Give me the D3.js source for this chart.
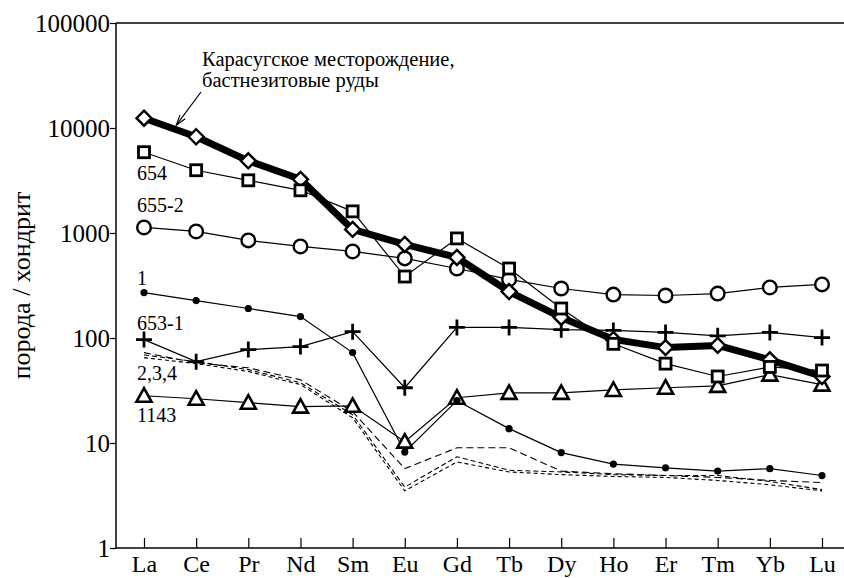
<!DOCTYPE html>
<html><head><meta charset="utf-8">
<script src="https://cdn.jsdelivr.net/npm/d3@7"></script>
<style>
html,body{margin:0;padding:0;background:#fff;}
svg{display:block;}
</style></head>
<body><svg id="c" width="844" height="578"></svg>
<script>
const elements = ["La","Ce","Pr","Nd","Sm","Eu","Gd","Tb","Dy","Ho","Er","Tm","Yb","Lu"];
const yTicks = [1,10,100,1000,10000,100000];

const karasug = [12400,8250,4870,3245,1082,778,585,277,157,97,81,85,62,43];
const s654    = [5880,3960,3175,2550,1607,385,888,459,191,88,57,43,53,49];
const s6552   = [1130,1035,850,745,667,573,459,361,296,259,254,265,303,324];
const s1      = [271,227,191,160,72.6,8.2,25.3,13.7,8.1,6.3,5.8,5.4,5.7,4.9];
const s6531   = [96.6,59.5,77.5,82.8,115,33.6,126,126,120,118,113,105,113,101];
const s1143   = [28.2,26.4,24.2,22.2,22.6,10.3,27,30,30,32,33.6,35,44.8,36];
const s2      = [72.6,58,52,40,19.9,5.7,9.0,9.0,5.4,5.1,4.9,4.7,4.4,4.2];
const s3      = [69,59.5,50,37.5,18.6,3.8,7.4,5.5,5.3,5.0,4.9,4.9,4.3,3.6];
const s4      = [65,57,48,36,17.4,3.5,6.6,5.3,5.0,4.8,4.7,4.4,4.0,3.5];

const seriesLabels = [
  {text:"654", series:s654, dy:28},
  {text:"655-2", series:s6552, dy:-15},
  {text:"1", series:s1, dy:-8},
  {text:"653-1", series:s6531, dy:-10},
  {text:"2,3,4", series:s3, dy:25},
  {text:"1143", series:s1143, dy:26}
];
const annotation = ["Карасугское месторождение,","бастнезитовые руды"];
const yTitle = "порода / хондрит";

const FONT = '"Liberation Serif", "Times New Roman", serif';
const svg = d3.select("#c").attr("font-family", FONT);
const W = 844, H = 578;
const mLeft = 116, mTop = 23, mBottom = 548;

const x = d3.scalePoint().domain(elements).range([144, 822]);
const y = d3.scaleLog().domain([1,100000]).range([mBottom, mTop]);

svg.append("line").attr("x1",mLeft).attr("x2",W).attr("y1",mTop).attr("y2",mTop).attr("stroke","#000").attr("stroke-width",1.5);

const yAxis = d3.axisLeft(y).tickValues(yTicks).tickFormat(d3.format("d")).tickSize(6).tickPadding(0);
const gy = svg.append("g").attr("transform",`translate(${mLeft},0)`).call(yAxis)
  .attr("font-family", FONT).attr("font-size", 25);
gy.select(".domain").attr("stroke-width",1.5).attr("d",`M0,${mTop}V${mBottom}`);
gy.selectAll(".tick line").attr("stroke-width",1.2);
gy.selectAll("text").style("font-family",FONT).style("font-size","25px").attr("dy","0.34em").attr("fill","#000");

const xAxis = d3.axisBottom(x).tickSize(-10).tickPadding(0);
const gx = svg.append("g").attr("transform",`translate(0,${mBottom})`).call(xAxis)
  .attr("font-family", FONT).attr("font-size", 25);
gx.select(".domain").attr("stroke-width",1.5).attr("d",`M${mLeft},0H${W}`);
gx.selectAll(".tick line").attr("stroke-width",1.2);
gx.selectAll("text").style("font-family",FONT).style("font-size","24px").attr("y",24).attr("dy",0).attr("fill","#000");

svg.append("text").attr("transform",`translate(30,${(mTop+mBottom)/2}) rotate(-90)`)
  .attr("text-anchor","middle").style("font-family",FONT).style("font-size","26px").text(yTitle);

const line = d3.line().x((d,i)=>x(elements[i])).y(d=>y(d));

[[s2,"7,4"],[s3,"5,3"],[s4,"4,3"]].forEach(([s,da])=>{
  svg.append("path").attr("d",line(s)).attr("fill","none").attr("stroke","#000")
    .attr("stroke-width",1.1).attr("stroke-dasharray",da);
});
[s654,s6552,s1,s6531,s1143].forEach(s=>{
  svg.append("path").attr("d",line(s)).attr("fill","none").attr("stroke","#000").attr("stroke-width",1.2);
});
svg.append("path").attr("d",line(karasug)).attr("fill","none").attr("stroke","#000")
  .attr("stroke-width",7).attr("stroke-linejoin","round");

function pts(s){return s.map((v,i)=>({cx:x(elements[i]),cy:y(v)}));}

const gm = svg.append("g");
gm.selectAll(".tri").data(pts(s1143)).join("path").attr("class","tri")
  .attr("transform",d=>`translate(${d.cx},${d.cy})`)
  .attr("d","M0,-7.5L7.5,6L-7.5,6Z").attr("fill","#fff").attr("stroke","#000").attr("stroke-width",2.6);
gm.selectAll(".dot").data(pts(s1)).join("circle").attr("class","dot")
  .attr("cx",d=>d.cx).attr("cy",d=>d.cy).attr("r",3.6).attr("fill","#000");
gm.selectAll(".plus").data(pts(s6531)).join("path").attr("class","plus")
  .attr("transform",d=>`translate(${d.cx},${d.cy})`)
  .attr("d","M-8,0H8M0,-8V8").attr("stroke","#000").attr("stroke-width",2.8).attr("fill","none");
gm.selectAll(".circ").data(pts(s6552)).join("circle").attr("class","circ")
  .attr("cx",d=>d.cx).attr("cy",d=>d.cy).attr("r",6.8).attr("fill","#fff").attr("stroke","#000").attr("stroke-width",2.4);
gm.selectAll(".dia").data(pts(karasug)).join("path").attr("class","dia")
  .attr("transform",d=>`translate(${d.cx},${d.cy})`)
  .attr("d","M0,-7.5L7.5,0L0,7.5L-7.5,0Z").attr("fill","#fff").attr("stroke","#000").attr("stroke-width",2.4);
gm.selectAll(".sq").data(pts(s654)).join("rect").attr("class","sq")
  .attr("x",d=>d.cx-5.5).attr("y",d=>d.cy-5.5).attr("width",11).attr("height",11)
  .attr("fill","#fff").attr("stroke","#000").attr("stroke-width",2.8);

seriesLabels.forEach(l=>{
  svg.append("text").attr("x",x("La")-7).attr("y",y(l.series[0])+l.dy)
    .style("font-family",FONT).style("font-size","20px").text(l.text);
});

annotation.forEach((t,i)=>{
  svg.append("text").attr("x",202).attr("y",66+i*21)
    .style("font-family",FONT).style("font-size","20.5px").text(t);
});

const tt = 0.62;
const tipX = x("La") + tt*(x("Ce")-x("La"));
const tipY = y(karasug[0]) + tt*(y(karasug[1])-y(karasug[0])) - 4.5;
const sx = 201, sy = 92;
svg.append("line").attr("x1",sx).attr("y1",sy).attr("x2",tipX).attr("y2",tipY).attr("stroke","#000").attr("stroke-width",1.2);
const ang = Math.atan2(tipY-sy, tipX-sx);
const ah = 11, aw = 0.3;
svg.append("path").attr("d",`M${tipX-ah*Math.cos(ang-aw)},${tipY-ah*Math.sin(ang-aw)}L${tipX},${tipY}L${tipX-ah*Math.cos(ang+aw)},${tipY-ah*Math.sin(ang+aw)}`)
  .attr("fill","none").attr("stroke","#000").attr("stroke-width",1.2);
</script></body></html>
